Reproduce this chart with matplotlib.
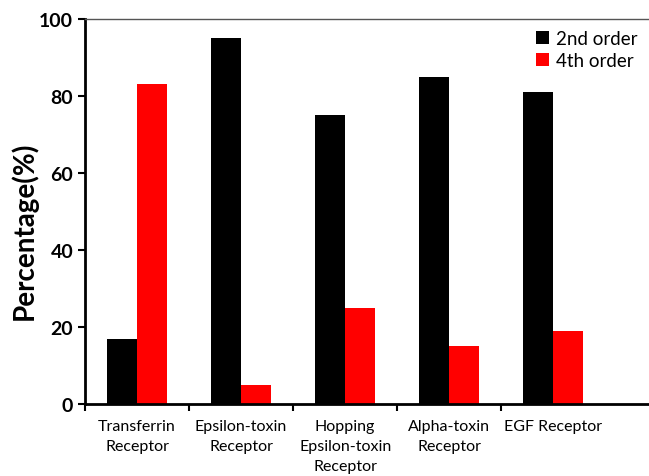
import numpy as np
import matplotlib
matplotlib.use('Agg')
import matplotlib.pyplot as plt

plt.rcParams['font.family'] = ['Lato', 'DejaVu Sans']

categorias = ['Transferrin\nReceptor', 'Epsilon-toxin\nReceptor', 'Hopping\nEpsilon-toxin\nReceptor',
              'Alpha-toxin\nReceptor', 'EGF Receptor']
ordem2 = [17, 95, 75, 85, 81]
ordem4 = [83, 5, 25, 15, 19]

fig = plt.figure(figsize=(6.49, 4.77), dpi=100)
ax = fig.add_axes([0.131, 0.151, 0.869, 0.807])

x = np.arange(len(categorias))
largura = 0.29
ax.bar(x - largura / 2, ordem2, largura, color='black', label='2nd order')
ax.bar(x + largura / 2, ordem4, largura, color='#ff0000', label='4th order')

ax.set_xlim(-0.5, 4.92)
ax.set_ylim(0, 100)
ax.set_yticks([0, 20, 40, 60, 80, 100])
ax.tick_params(axis='y', labelsize=14, width=1.5, length=5, direction='out')
for t in ax.get_yticklabels():
    t.set_fontweight('bold')

# rótulos no centro, marcas nas fronteiras
ax.set_xticks(x)
ax.set_xticklabels(categorias, fontsize=11.5, linespacing=1.55)
ax.tick_params(axis='x', length=0, pad=11)
ax.set_xticks(np.arange(-0.5, 4, 1), minor=True)
ax.tick_params(axis='x', which='minor', length=5, width=1.5, direction='out')

ax.set_ylabel('Percentage(%)', fontsize=20, fontweight='bold')
ax.yaxis.set_label_coords(-0.083, 0.452)

ax.spines['left'].set_linewidth(2)
ax.spines['bottom'].set_linewidth(2)
ax.spines['top'].set_linewidth(1)
ax.spines['top'].set_color('#555555')
ax.spines['right'].set_visible(False)

ax.legend(loc='upper right', frameon=False, fontsize=13.5, handlelength=0.7, handleheight=0.7,
          handletextpad=0.4, labelspacing=0.25, borderaxespad=0.2)

fig.savefig('out.png', dpi=100)
